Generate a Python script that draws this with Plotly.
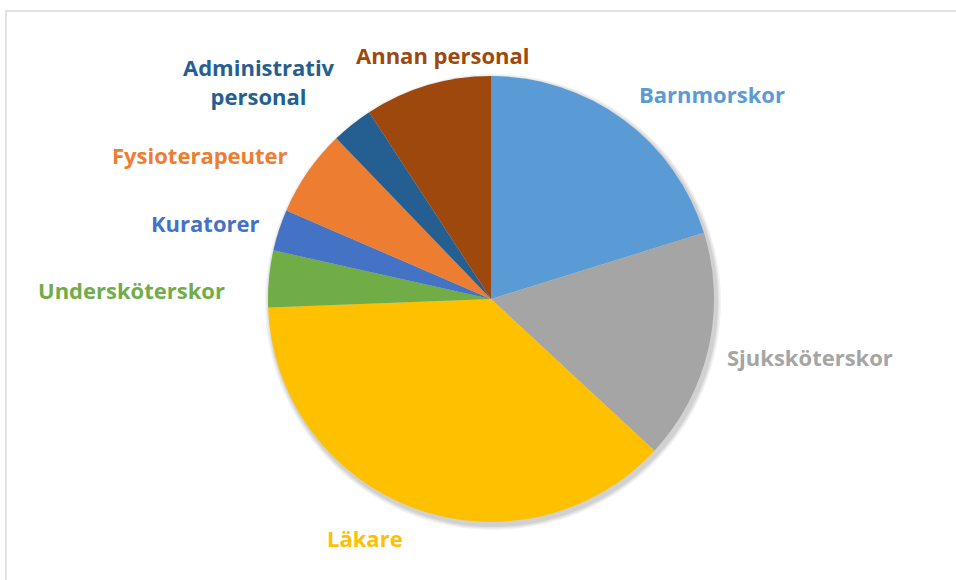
import plotly.graph_objects as go

# Data (share of staff)
categories = ["Barnmorskor", "Sjuksköterskor", "Läkare", "Undersköterskor",
              "Kuratorer", "Fysioterapeuter", "Administrativ personal", "Annan personal"]
values = [20.2, 16.7, 37.5, 4.1, 3.0, 6.3, 3.0, 9.2]

# Styles
colors = ["#5B9BD5", "#A5A5A5", "#FFC000", "#70AD47",
          "#4472C4", "#ED7D31", "#255E91", "#9E480E"]
label_text = ["Barnmorskor", "Sjuksköterskor", "Läkare", "Undersköterskor",
              "Kuratorer", "Fysioterapeuter", "Administrativ<br>personal", "Annan personal"]
# label centre positions in screen pixels (x, y from top)
label_pos = [(712, 94), (810, 357), (365, 538), (131, 290),
             (205, 223), (200, 155), (259, 81), (443, 55)]

W, H = 956, 580
cx, cy, r = 491, 299, 223

fig = go.Figure()
fig.add_trace(go.Pie(
    labels=categories,
    values=values,
    sort=False,
    direction="clockwise",
    rotation=0,
    marker=dict(colors=colors, line=dict(width=0)),
    textinfo="none",
    hoverinfo="label+percent",
    showlegend=False,
    domain=dict(x=[(cx - r) / W, (cx + r) / W], y=[(H - cy - r) / H, (H - cy + r) / H]),
))

# soft shadow behind the pie
shapes = []
for i, op in enumerate([0.05, 0.06, 0.08]):
    rr = r + 5 - i * 1.5
    ox, oy = 2, 3
    shapes.append(dict(type="circle", xref="paper", yref="paper", layer="below",
                       x0=(cx + ox - rr) / W, x1=(cx + ox + rr) / W,
                       y0=(H - cy - oy - rr) / H, y1=(H - cy - oy + rr) / H,
                       fillcolor=f"rgba(0,0,0,{op})", line=dict(width=0)))
# chart frame
shapes.append(dict(type="rect", xref="paper", yref="paper", layer="below",
                   x0=6 / W, x1=(W + 10) / W, y0=-10 / H, y1=(H - 11) / H,
                   line=dict(color="#D9D9D9", width=1.5), fillcolor="rgba(0,0,0,0)"))

annotations = []
for txt, (px, py), col in zip(label_text, label_pos, colors):
    annotations.append(dict(text=f"<b>{txt}</b>", x=px / W, y=(H - py) / H,
                            xref="paper", yref="paper", showarrow=False,
                            xanchor="center", yanchor="middle",
                            font=dict(family="Open Sans", size=22, color=col)))

fig.update_layout(
    width=W, height=H,
    margin=dict(l=0, r=0, t=0, b=0),
    paper_bgcolor="white",
    plot_bgcolor="white",
    shapes=shapes,
    annotations=annotations,
)

fig.write_html("out.html",
               config={"displayModeBar": False},
               post_script="document.body.style.margin='0';document.body.style.overflow='hidden';")
